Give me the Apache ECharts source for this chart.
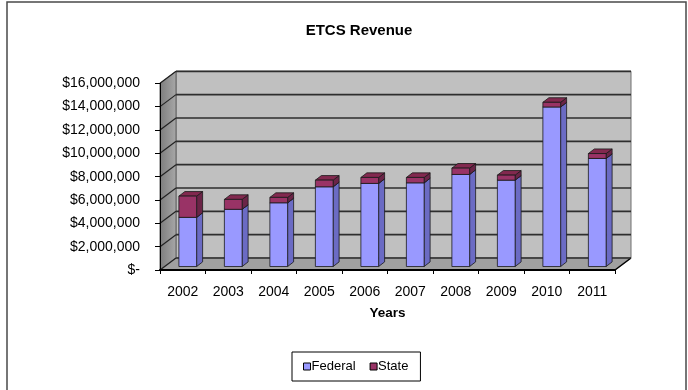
<!DOCTYPE html>
<html>
<head>
<meta charset="utf-8">
<title>ETCS Revenue</title>
<script src="https://cdn.jsdelivr.net/npm/echarts@6/dist/echarts.min.js"></script>
<style>
  html, body { margin: 0; padding: 0; background: #fff; }
  #chart { width: 688px; height: 390px; }
</style>
</head>
<body>
<div id="chart"></div>
<script>
// Revenue by fiscal year, in dollars
const years = ['2002', '2003', '2004', '2005', '2006', '2007', '2008', '2009', '2010', '2011'];
const federal = [4210000, 4900000, 5460000, 6830000, 7120000, 7170000, 7890000, 7400000, 13670000, 9260000];
const state = [1820000, 850000, 460000, 570000, 510000, 460000, 540000, 430000, 400000, 420000];
const yTicks = [0, 2000000, 4000000, 6000000, 8000000, 10000000, 12000000, 14000000, 16000000];

// 3-D look: depth offset of the back wall and of each column
const DX = 16, DY = -12;          // floor depth
const BX = 5, BY = -3.5;          // column placement inside the floor
const CX = 6, CY = -4.6;          // column thickness

const FONT = '"Liberation Sans", Arial, sans-serif';

function money(v) {
  if (v === 0) return '$-';
  return '$' + v.toLocaleString('en-US');
}

function renderWalls(params, api) {
  const cs = params.coordSys;
  const L = cs.x, R = cs.x + cs.width, T = cs.y, B = cs.y + cs.height;
  return {
    type: 'group',
    children: [
      { type: 'rect', shape: { x: L + DX, y: T + DY, width: R - L, height: B - T },
        style: { fill: '#c0c0c0', stroke: '#707070', lineWidth: 1 } },
      { type: 'polygon', shape: { points: [[L, B], [L, T], [L + DX, T + DY], [L + DX, B + DY]] },
        style: { fill: new echarts.graphic.LinearGradient(0, 0, 1, 0, [
          { offset: 0, color: '#7c7c7c' }, { offset: 1, color: '#a8a8a8' }]),
          stroke: '#606060', lineWidth: 1 } },
      { type: 'polygon', shape: { points: [[L, B], [R, B], [R + DX, B + DY], [L + DX, B + DY]] },
        style: { fill: '#a0a0a0', stroke: '#808080', lineWidth: 1 } },
      { type: 'line', shape: { x1: R, y1: B, x2: R + DX, y2: B + DY },
        style: { stroke: '#000', lineWidth: 1.5 } }
    ]
  };
}

function renderGrid(params, api) {
  const cs = params.coordSys;
  const L = cs.x, R = cs.x + cs.width;
  const y = api.coord([0, api.value(1)])[1];
  return {
    type: 'group',
    children: [
      { type: 'line', shape: { x1: L, y1: y, x2: L + DX, y2: y + DY },
        style: { stroke: '#222', lineWidth: 1.2 } },
      { type: 'line', shape: { x1: L + DX, y1: y + DY, x2: R + DX, y2: y + DY },
        style: { stroke: '#2e2e2e', lineWidth: 1.7 } }
    ]
  };
}

function makeColumn(front, side, top) {
  return function (params, api) {
    const i = api.value(0);
    const p0 = api.coord([i, api.value(1)]);
    const p1 = api.coord([i, api.value(2)]);
    const w = api.size([1, 0])[0] * 0.39;
    const x0 = p0[0] + BX - w / 2, x1 = x0 + w;
    const yb = p0[1] + BY, yt = p1[1] + BY;
    const edge = { stroke: '#1a1a1a', lineWidth: 0.8 };
    return {
      type: 'group',
      children: [
        { type: 'polygon', shape: { points: [[x1, yb], [x1 + CX, yb + CY], [x1 + CX, yt + CY], [x1, yt]] },
          style: Object.assign({ fill: side }, edge) },
        { type: 'polygon', shape: { points: [[x0, yt], [x1, yt], [x1 + CX, yt + CY], [x0 + CX, yt + CY]] },
          style: Object.assign({ fill: top }, edge) },
        { type: 'rect', shape: { x: x0, y: yt, width: w, height: yb - yt },
          style: Object.assign({ fill: front }, edge) }
      ]
    };
  };
}

const chart = echarts.init(document.getElementById('chart'), null, { renderer: 'canvas' });

chart.setOption({
  animation: false,
  backgroundColor: '#fff',
  title: {
    text: 'ETCS Revenue',
    left: 354,
    textAlign: 'center',
    top: 18,
    textStyle: { fontFamily: FONT, fontSize: 15, fontWeight: 'bold', color: '#000' }
  },
  legend: {
    left: 292,
    top: 352,
    orient: 'horizontal',
    itemWidth: 7,
    itemHeight: 7,
    itemGap: 14,
    padding: [8, 12, 8, 11],
    borderColor: '#000',
    borderWidth: 1,
    textStyle: { fontFamily: FONT, fontSize: 13, color: '#000', padding: [0, 0, 0, -4] },
    data: [
      { name: 'Federal', icon: 'rect', itemStyle: { color: '#9999ff', borderColor: '#000', borderWidth: 1 } },
      { name: 'State', icon: 'rect', itemStyle: { color: '#993366', borderColor: '#000', borderWidth: 1 } }
    ]
  },
  graphic: [
    { type: 'rect', z: -10, silent: true,
      shape: { x: 7, y: 2, width: 679, height: 400 },
      style: { fill: 'none', stroke: '#4a4a4a', lineWidth: 1.5 } }
  ],
  grid: { left: 160, right: 73, top: 83.3, bottom: 120, containLabel: false },
  xAxis: {
    type: 'category',
    data: years,
    boundaryGap: true,
    name: 'Years',
    nameLocation: 'middle',
    nameGap: 36,
    nameTextStyle: { fontFamily: FONT, fontSize: 13.5, fontWeight: 'bold', color: '#000' },
    axisLine: { show: true, lineStyle: { color: '#000', width: 2 } },
    axisTick: { show: true, length: 4, lineStyle: { color: '#000' } },
    axisLabel: { margin: 15, fontFamily: FONT, fontSize: 14, color: '#000' },
    splitLine: { show: false },
    z: 10
  },
  yAxis: {
    type: 'value',
    min: 0,
    max: 16000000,
    interval: 2000000,
    axisLine: { show: true, lineStyle: { color: '#000', width: 1 } },
    axisTick: { show: true, length: 5, lineStyle: { color: '#000' } },
    axisLabel: { margin: 20, fontFamily: FONT, fontSize: 14, color: '#000', formatter: money },
    splitLine: { show: false },
    z: 10
  },
  series: [
    {
      name: 'walls', type: 'custom', z: 1, silent: true,
      data: [[0, 0]], encode: { x: 0, y: 1 },
      renderItem: renderWalls
    },
    {
      name: 'gridlines', type: 'custom', z: 2, silent: true,
      data: yTicks.map(v => [0, v]), encode: { x: 0, y: 1 },
      renderItem: renderGrid
    },
    {
      name: 'Federal', type: 'custom', z: 3,
      itemStyle: { color: '#9999ff' },
      data: years.map((y, i) => [i, 0, federal[i]]),
      encode: { x: 0, y: [1, 2] },
      renderItem: makeColumn('#9999ff', '#6b6bc4', '#8080e0')
    },
    {
      name: 'State', type: 'custom', z: 4,
      itemStyle: { color: '#993366' },
      data: years.map((y, i) => [i, federal[i], federal[i] + state[i]]),
      encode: { x: 0, y: [1, 2] },
      renderItem: makeColumn('#993366', '#6b2447', '#82294f')
    }
  ]
});
</script>
</body>
</html>
